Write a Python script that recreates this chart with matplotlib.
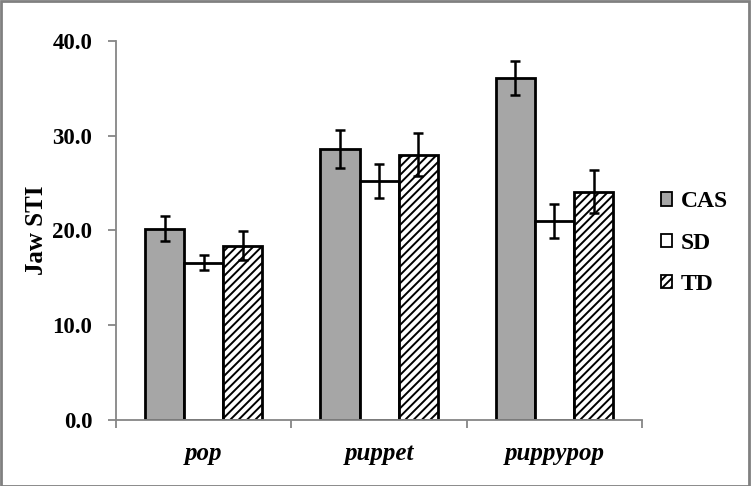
import matplotlib
matplotlib.use("Agg")
import matplotlib.pyplot as plt
import numpy as np
from matplotlib.patches import Rectangle

plt.rcParams['font.family'] = ['Liberation Serif', 'DejaVu Serif']
plt.rcParams['hatch.linewidth'] = 1.4

categories = ["pop", "puppet", "puppypop"]
series = ["CAS", "SD", "TD"]
cas = [20.2, 28.6, 36.1]
sd = [16.6, 25.2, 21.0]
td = [18.4, 28.0, 24.1]
cas_err = [1.3, 2.0, 1.8]
sd_err = [0.8, 1.8, 1.8]
td_err = [1.5, 2.3, 2.3]
yticks = [0, 10, 20, 30, 40]

fig = plt.figure(figsize=(7.51, 4.86), dpi=100)
ax = fig.add_axes([0.1545, 0.1358, 0.7005, 0.780])

x = np.arange(len(categories))
w = 0.223
styles = [dict(facecolor="#a6a6a6", hatch=None),
          dict(facecolor="white", hatch=None),
          dict(facecolor="white", hatch="////")]
vals = [cas, sd, td]
errs = [cas_err, sd_err, td_err]
handles = []
for i, (v, e, st) in enumerate(zip(vals, errs, styles)):
    pos = x + (i - 1) * w
    b = ax.bar(pos, v, w, color=st["facecolor"], edgecolor="black",
               linewidth=2.0, hatch=st["hatch"], label=series[i], zorder=2)
    ax.errorbar(pos, v, yerr=e, fmt="none", ecolor="black", elinewidth=1.8,
                capsize=3.3, capthick=1.8, zorder=3)
    handles.append(b)

ax.set_xlim(-0.5, 2.5)
ax.set_ylim(0, 40)
ax.set_yticks(yticks)
ax.set_yticklabels([f"{t:.1f}" for t in yticks], fontsize=16.5, fontweight="bold")
ax.set_xticks(x)
ax.set_xticklabels(categories, fontsize=18, fontweight="bold", style="italic")
ax.tick_params(axis="x", length=0, pad=16)
ax.set_xticks([-0.5, 0.5, 1.5, 2.5], minor=True)
ax.tick_params(axis="x", which="minor", length=6, width=1.3, color="#868686", direction="out")
ax.tick_params(axis="y", length=6, width=1.3, color="#868686", direction="out", pad=11)
for s in ["top", "right"]:
    ax.spines[s].set_visible(False)
for s in ["left", "bottom"]:
    ax.spines[s].set_color("#868686")
    ax.spines[s].set_linewidth(1.3)
ax.set_ylabel("Jaw STI", fontsize=18, fontweight="bold", labelpad=3)

leg = fig.legend(handles=handles, labels=series, loc="center left",
                 bbox_to_anchor=(0.852, 0.5), frameon=False,
                 prop=dict(size=17, weight="bold"),
                 handlelength=0.48, handleheight=0.48, handletextpad=0.35,
                 labelspacing=0.85)
for h in leg.legend_handles:
    h.set_linewidth(1.3)

fig.add_artist(Rectangle((0.001, 0.001), 0.997, 0.996, transform=fig.transFigure,
                         fill=False, edgecolor="#808080", linewidth=2.0))

fig.savefig("out.png", dpi=100)
